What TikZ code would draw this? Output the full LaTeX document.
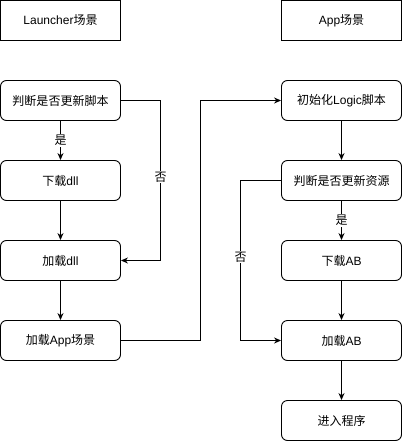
\documentclass[tikz,border=0pt]{standalone}
\usepackage{fontspec}
\setmainfont{Liberation Sans}
\newfontfamily\cjk{Noto Sans CJK SC}
\usetikzlibrary{arrows.meta}
\begin{document}
\begin{tikzpicture}[x=1pt,y=-1pt,
  box/.style={draw,line width=0.9pt,minimum width=120pt,minimum height=40pt,inner sep=0pt,font=\fontsize{12}{14}\selectfont,anchor=center},
  rbox/.style={box,rounded corners=6pt},
  conn/.style={line width=0.9pt,-{Stealth[length=7pt,width=6pt]}},
  lab/.style={fill=white,inner sep=1pt,font=\fontsize{12}{14}\selectfont}]
\useasboundingbox (0,0) rectangle (402,441);
\node[box] (launch) at (60.5,20.5) {Launcher{\cjk 场景}};
\node[box] (app) at (341.5,20.5) {App{\cjk 场景}};
\node[rbox] (chk1) at (60.5,100.5) {\cjk 判断是否更新脚本};
\node[rbox] (dl1) at (60.5,180.5) {{\cjk 下载}dll};
\node[rbox] (ld1) at (60.5,260.5) {{\cjk 加载}dll};
\node[rbox] (ldapp) at (60.5,340.5) {{\cjk 加载}App{\cjk 场景}};
\node[rbox] (init) at (341.5,100.5) {{\cjk 初始化}Logic{\cjk 脚本}};
\node[rbox] (chk2) at (341.5,180.5) {\cjk 判断是否更新资源};
\node[rbox] (dl2) at (341.5,260.5) {{\cjk 下载}AB};
\node[rbox] (ld2) at (341.5,340.5) {{\cjk 加载}AB};
\node[rbox] (enter) at (341.5,420.5) {\cjk 进入程序};
\coordinate (c1) at (160.5,100.5);
\coordinate (c2) at (160.5,260.5);
\coordinate (c3) at (200.5,340.5);
\coordinate (c4) at (200.5,100.5);
\coordinate (c5) at (240.5,180.5);
\coordinate (c6) at (240.5,340.5);
\draw[conn] (chk1) -- node[lab]{\cjk 是} (dl1);
\draw[conn] (dl1) -- (ld1);
\draw[conn] (ld1) -- (ldapp);
\draw[conn] (chk1.east) -- (c1) -- node[lab,pos=0.48]{\cjk 否} (c2) -- (ld1.east);
\draw[conn] (ldapp.east) -- (c3) -- (c4) -- (init.west);
\draw[conn] (init) -- (chk2);
\draw[conn] (chk2) -- node[lab]{\cjk 是} (dl2);
\draw[conn] (dl2) -- (ld2);
\draw[conn] (ld2) -- (enter);
\draw[conn] (chk2.west) -- (c5) -- node[lab,pos=0.48]{\cjk 否} (c6) -- (ld2.west);
\end{tikzpicture}
\end{document}
